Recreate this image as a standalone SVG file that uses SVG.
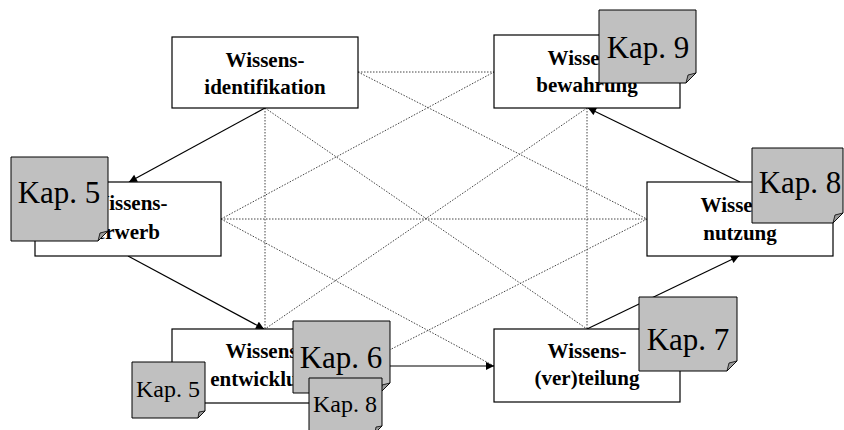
<svg xmlns="http://www.w3.org/2000/svg" width="844" height="430" viewBox="0 0 844 430">
<defs>
<marker id="arr" viewBox="0 0 10 10" refX="10" refY="5" markerWidth="10" markerHeight="8" markerUnits="userSpaceOnUse" orient="auto">
<path d="M0,0 L10,5 L0,10 z" fill="#000"/>
</marker>
</defs>
<style>
.box{fill:#fff;stroke:#000;stroke-width:1.2}
.lbl{font-family:"Liberation Serif","Times New Roman",serif;font-weight:bold;font-size:21px;text-anchor:middle;fill:#000}
.note{fill:#c0c0c0;stroke:#000;stroke-width:1}
.fold{fill:#9a9a9a;stroke:#000;stroke-width:0.8}
.kap{font-family:"Liberation Serif","Times New Roman",serif;font-size:31px;text-anchor:middle;fill:#000}
.kaps{font-family:"Liberation Serif","Times New Roman",serif;font-size:24px;text-anchor:middle;fill:#000}
.dot{stroke:#444;stroke-width:1;stroke-dasharray:1.5 1.5;fill:none}
.sol{stroke:#000;stroke-width:1.2;fill:none;marker-end:url(#arr)}
</style>
<rect width="844" height="430" fill="#fff"/>
<g id="connectors">
<line class="dot" x1="358" y1="72" x2="494" y2="72"/>
<line class="dot" x1="265" y1="108" x2="265" y2="329"/>
<line class="dot" x1="265" y1="108" x2="587" y2="329"/>
<line class="dot" x1="358" y1="72" x2="647" y2="219"/>
<line class="dot" x1="221" y1="219" x2="494" y2="72"/>
<line class="dot" x1="221" y1="219" x2="647" y2="219"/>
<line class="dot" x1="221" y1="219" x2="494" y2="366"/>
<line class="dot" x1="587" y1="108" x2="265" y2="329"/>
<line class="dot" x1="647" y1="219" x2="358" y2="366"/>
<line class="dot" x1="587" y1="108" x2="587" y2="329"/>
<line class="sol" x1="265" y1="108" x2="129" y2="182"/>
<line class="sol" x1="128" y1="256" x2="264" y2="329"/>
<line class="sol" x1="358" y1="366" x2="494" y2="366"/>
<line class="sol" x1="587" y1="329" x2="739" y2="256"/>
<line class="sol" x1="740" y1="182" x2="588" y2="108"/>
</g>
<g id="identifikation">
<rect class="box" x="172" y="37" width="186" height="71"/>
<text class="lbl" x="265" y="67">Wissens-</text>
<text class="lbl" x="265" y="94">identifikation</text>
</g>
<g id="bewahrung">
<rect class="box" x="494" y="35" width="186" height="73"/>
<text class="lbl" x="587" y="65">Wissens-</text>
<text class="lbl" x="587" y="92">bewahrung</text>
</g>
<g id="erwerb">
<rect class="box" x="35" y="182" width="186" height="74"/>
<text class="lbl" x="128" y="210">Wissens-</text>
<text class="lbl" x="128" y="239">erwerb</text>
</g>
<g id="nutzung">
<rect class="box" x="647" y="182" width="186" height="74"/>
<text class="lbl" x="740" y="212">Wissens-</text>
<text class="lbl" x="740" y="240">nutzung</text>
</g>
<g id="entwicklung">
<rect class="box" x="172" y="329" width="186" height="74"/>
<text class="lbl" x="265" y="358">Wissens-</text>
<text class="lbl" x="265" y="386">entwicklung</text>
</g>
<g id="verteilung">
<rect class="box" x="494" y="329" width="186" height="73"/>
<text class="lbl" x="587" y="358">Wissens-</text>
<text class="lbl" x="587" y="385">(ver)teilung</text>
</g>
<g id="kap9">
<polygon class="note" points="599,10 696,10 696,73 686,83 599,83"/>
<polygon class="fold" points="686,83 696,73 688,75"/>
<text class="kap" x="648" y="58">Kap. 9</text>
</g>
<g id="kap5a">
<polygon class="note" points="11,157 108,157 108,231 98,241 11,241"/>
<polygon class="fold" points="98,241 108,231 100,233"/>
<text class="kap" x="59" y="203">Kap. 5</text>
</g>
<g id="kap8a">
<polygon class="note" points="752,148 843,148 843,213 833,223 752,223"/>
<polygon class="fold" points="833,223 843,213 835,215"/>
<text class="kap" x="800" y="193">Kap. 8</text>
</g>
<g id="kap7">
<polygon class="note" points="639,297 737,297 737,361 727,371 639,371"/>
<polygon class="fold" points="727,371 737,361 729,363"/>
<text class="kap" x="688" y="350">Kap. 7</text>
</g>
<g id="kap6">
<polygon class="note" points="293,321 390,321 390,383 380,393 293,393"/>
<polygon class="fold" points="380,393 390,383 382,385"/>
<text class="kap" x="341" y="368">Kap. 6</text>
</g>
<g id="kap5b">
<polygon class="note" points="132,362 205,362 205,411 198,418 132,418"/>
<polygon class="fold" points="198,418 205,411 199,412"/>
<text class="kaps" x="168" y="397">Kap. 5</text>
</g>
<g id="kap8b">
<polygon class="note" points="309,378 382,378 382,426 375,433 309,433"/>
<polygon class="fold" points="375,433 382,426 376,427"/>
<text class="kaps" x="345" y="412">Kap. 8</text>
</g>
</svg>
